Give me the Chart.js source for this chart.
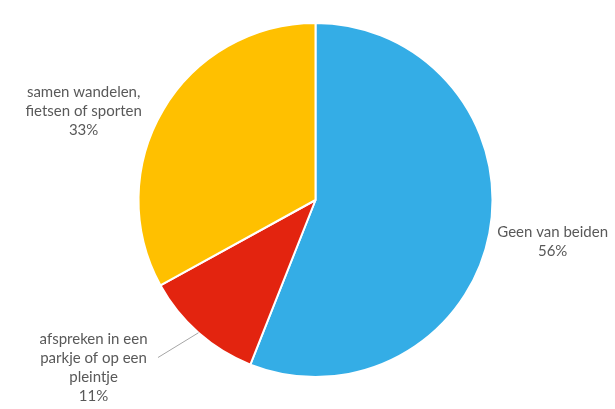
<!DOCTYPE html>
<html>
<head>
<meta charset="utf-8">
<script src="https://cdn.jsdelivr.net/npm/chart.js@4"></script>
<style>
  html, body { margin: 0; padding: 0; background: #ffffff; }
  #wrap { width: 615px; height: 409px; }
</style>
</head>
<body>
<div id="wrap"><canvas id="myChart" width="615" height="409"></canvas></div>
<script>
// categories, values (percent) and slice colours
var categories = [
  ['Geen van beiden'],
  ['afspreken in een', 'parkje of op een', 'pleintje'],
  ['samen wandelen,', 'fietsen of sporten'],
];
var values = [56, 11, 33];
var colors = ['#34ADE6', '#E3240F', '#FFC000'];

// label placement relative to pie centre, in units of the radius
var labelOffsets = [
  { x: 1.34, y: 0.237 },
  { x: -1.254, y: 0.946 },
  { x: -1.31, y: -0.5 },
];
// slices that get a leader line: end point of the line (radius units)
var leaders = { 1: { x: -0.89, y: 0.89 } };

var outsideLabels = {
  id: 'outsideLabels',
  afterDatasetsDraw: function (chart) {
    var ctx = chart.ctx;
    var meta = chart.getDatasetMeta(0);
    var lineHeight = 19;
    ctx.save();
    ctx.font = '15px Lato, "Open Sans", sans-serif';
    ctx.fillStyle = '#595959';
    ctx.textAlign = 'center';
    ctx.textBaseline = 'middle';
    meta.data.forEach(function (arc, i) {
      var r = arc.outerRadius;
      var lines = categories[i].concat([values[i] + '%']);
      var cx = arc.x + labelOffsets[i].x * r;
      var cy = arc.y + labelOffsets[i].y * r;
      var top = cy - ((lines.length - 1) * lineHeight) / 2;
      lines.forEach(function (t, k) {
        ctx.fillText(t, cx, top + k * lineHeight);
      });
      if (leaders[i]) {
        var mid = (arc.startAngle + arc.endAngle) / 2;
        ctx.beginPath();
        ctx.strokeStyle = '#A6A6A6';
        ctx.lineWidth = 1;
        ctx.moveTo(arc.x + Math.cos(mid) * r, arc.y + Math.sin(mid) * r);
        ctx.lineTo(arc.x + leaders[i].x * r, arc.y + leaders[i].y * r);
        ctx.stroke();
      }
    });
    ctx.restore();
  },
};

window.onload = function () {
  var ctx = document.getElementById('myChart').getContext('2d');
  var myChart = new Chart(ctx, {
    type: 'pie',
    data: {
      labels: categories.map(function (c) { return c.join(' '); }),
      datasets: [
        {
          data: values,
          backgroundColor: colors,
          borderColor: '#ffffff',
          borderWidth: 2,
          radius: 177,
        },
      ],
    },
    options: {
      responsive: false,
      animation: false,
      layout: { padding: { left: 16, right: 0, top: 0, bottom: 9 } },
      plugins: {
        legend: { display: false },
        tooltip: { enabled: false },
      },
    },
    plugins: [outsideLabels],
  });
};
</script>
</body>
</html>
